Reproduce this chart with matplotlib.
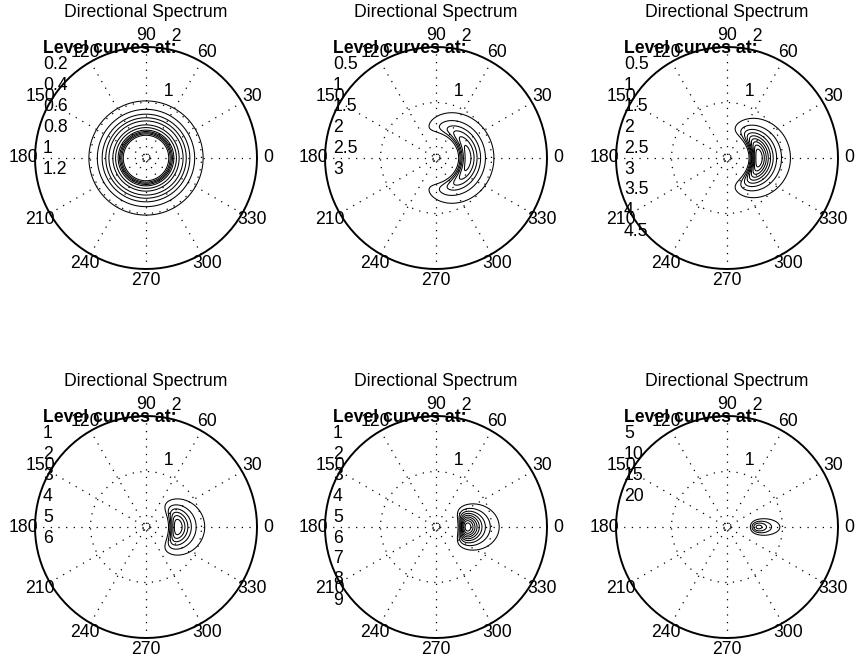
import math

import matplotlib
matplotlib.use('Agg')
import matplotlib.pyplot as plt
import numpy as np

plt.rcParams['font.family'] = ['Liberation Sans', 'DejaVu Sans']
plt.rcParams['lines.scale_dashes'] = False

# sea state: Pierson-Moskowitz spectrum, cos-2s spreading with growing s
Hs = 7.0
Tp = 11.0
spread_s = [0, 2, 5, 10, 20, 100]
levels = [
    [0.2, 0.4, 0.6, 0.8, 1.0, 1.2],
    [0.5, 1.0, 1.5, 2.0, 2.5, 3.0],
    [0.5, 1.0, 1.5, 2.0, 2.5, 3.0, 3.5, 4.0, 4.5],
    [1, 2, 3, 4, 5, 6],
    [1, 2, 3, 4, 5, 6, 7, 8, 9],
    [5, 10, 15, 20],
]
title = 'Directional Spectrum'
angle_labels = list(range(0, 360, 30))
ring_r = [1, 2]
center_ring = 0.07

W, H, DPI = 858, 661, 100
centers = [(146, 158), (436, 158), (727, 158),
           (146, 527), (436, 527), (727, 527)]
scale = 55.5   # pixels per radial unit
lim = 2.4
fs = 12.7


def pm_spectrum(w):
    wp = 2 * np.pi / Tp
    return 5 / 16 * Hs**2 * wp**4 / w**5 * np.exp(-1.25 * (wp / w)**4)


def cos2s(th, s):
    c = math.exp(math.lgamma(s + 1) - math.lgamma(s + 0.5)) / (2 * math.sqrt(math.pi))
    return c * np.cos(th / 2)**(2 * s)


w = np.linspace(0.02, 2.0, 500)
th = np.linspace(-np.pi, np.pi, 721)
WW, TT = np.meshgrid(w, th)
X = WW * np.cos(TT)
Y = WW * np.sin(TT)

fig = plt.figure(figsize=(W / DPI, H / DPI), dpi=DPI)
dots = (0, (0.9, 4.6))

for k, (cx, cy) in enumerate(centers):
    h = lim * scale
    ax = fig.add_axes([(cx - h) / W, (H - cy - h) / H, 2 * h / W, 2 * h / H])
    ax.set_xlim(-lim, lim)
    ax.set_ylim(-lim, lim)
    ax.axis('off')

    t = np.linspace(0, 2 * np.pi, 201)
    # spokes
    for a in range(0, 180, 30):
        ca, sa = np.cos(np.radians(a)), np.sin(np.radians(a))
        ax.plot([-2 * ca, 2 * ca], [-2 * sa, 2 * sa], color='k', lw=0.9,
                linestyle=dots)
    ax.plot(center_ring * np.cos(t), center_ring * np.sin(t), color='k',
            lw=0.9, linestyle=dots)
    for r in ring_r:
        if r == ring_r[-1]:
            ax.plot(r * np.cos(t), r * np.sin(t), color='k', lw=1.4)
        else:
            ax.plot(r * np.cos(t), r * np.sin(t), color='k', lw=0.9,
                    linestyle=dots)
        c82, s82 = np.cos(np.radians(82)), np.sin(np.radians(82))
        ax.text((r + 0.05) * c82, (r + 0.05) * s82, '  %g' % r, fontsize=fs,
                ha='left', va='bottom')
    for a in angle_labels:
        ax.text(2.2 * np.cos(np.radians(a)), 2.2 * np.sin(np.radians(a)),
                str(a), fontsize=fs, ha='center', va='center')

    Z = pm_spectrum(WW) * cos2s(TT, spread_s[k])
    ax.contour(X, Y, Z, levels=levels[k], colors='k', linewidths=0.75)

    ax.text(0, 2.63, title, fontsize=fs, ha='center', va='center')
    ax.text(-1.856, 1.98, 'Level curves at:', fontsize=fs, fontweight='bold',
            ha='left', va='center')
    for i, lv in enumerate(levels[k]):
        ax.text(-1.856, 1.676 - 0.375 * i, '%g' % lv, fontsize=fs,
                ha='left', va='center')

fig.savefig('out.png', dpi=DPI, facecolor='white')
